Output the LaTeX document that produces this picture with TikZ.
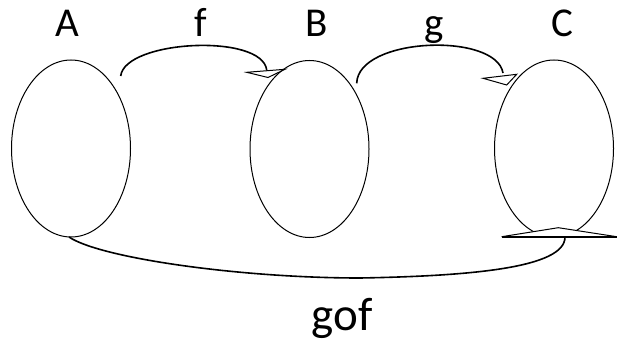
\documentclass[tikz,border=0pt]{standalone}
\usepackage{fontspec}
\setmainfont{Carlito}
\usetikzlibrary{shapes.geometric}
\tikzset{
  setbox/.style={ellipse, draw, line width=1pt, inner sep=0pt, outer sep=0pt, minimum width=119pt, minimum height=177pt},
  lbl/.style={anchor=base, inner sep=0pt, font=\fontsize{41}{44}\selectfont},
  maplink/.style={line width=1.6pt},
  tiphead/.style={draw, fill=white, line width=1pt, line join=miter}
}
\begin{document}
\begin{tikzpicture}[x=1pt,y=-1pt]
\useasboundingbox (0,0) rectangle (617,342);
\node[setbox] (A) at (71,148.5) {};
\node[setbox] (B) at (309.5,149) {};
\node[setbox] (C) at (554,148.5) {};
\node[lbl] (la) at (67,36.7) {A};
\node[lbl] (lf) at (201,36.7) {f};
\node[lbl] (lb) at (317,36.7) {B};
\node[lbl] (lg) at (434,36.7) {g};
\node[lbl] (lc) at (562,36.7) {C};
\node[anchor=base, inner sep=0pt, font=\fontsize{47}{50}\selectfont] (lgof) at (342,330) {gof};
\coordinate (fs) at (120.7,76);
\coordinate (fe) at (266.7,70);
\coordinate (gs) at (356.7,83.3);
\coordinate (ge) at (503,73);
\coordinate (hs) at (69,237);
\coordinate (hm) at (360,278);
\coordinate (he) at (565,237);
\draw[maplink] (fs) .. controls (125,40) and (262,33) .. (fe);
\draw[maplink] (gs) .. controls (358,37) and (496,32) .. (ge);
\draw[maplink] (hs) .. controls (100,258) and (240,278) .. (hm) .. controls (470,276) and (565,268) .. (he);
\draw[tiphead] (246.7,72.3) -- (285,69.3) -- (268,77.5) -- cycle;
\draw[tiphead] (483,78.3) -- (516.7,74.3) -- (506.7,85) -- cycle;
\draw[tiphead] (501.7,236.7) -- (558.3,227.7) -- (616.7,236.7) -- cycle;
\draw[line width=1.8pt] (501.7,236.7) -- (616.7,236.7);
\end{tikzpicture}
\end{document}
